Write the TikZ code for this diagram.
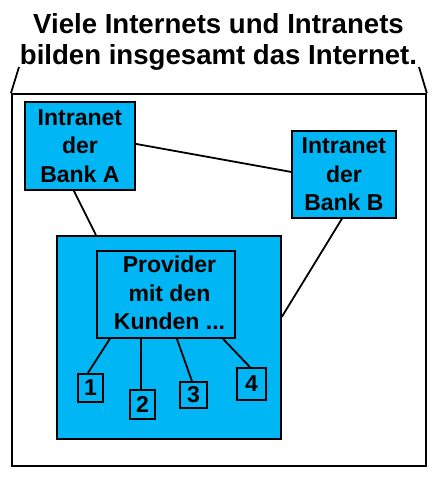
\documentclass[tikz,border=0pt]{standalone}
\usepackage{fontspec}
\setmainfont{Liberation Sans}
\definecolor{netblue}{RGB}{0,182,245}
\begin{document}
\begin{tikzpicture}[x=1pt,y=-1pt,
  box/.style={draw=black,line width=1.8pt,fill=netblue,inner sep=0pt},
  lbl/.style={font=\fontsize{23}{28.5}\selectfont\bfseries,align=center,inner sep=0pt},
  link/.style={line width=1.8pt}]
\useasboundingbox (0,0) rectangle (442,479);
\node[font=\fontsize{27.6}{31}\selectfont\bfseries, align=center, inner sep=0pt, anchor=north] (T) at (218.5,13) {Viele Internets und Intranets\\bilden insgesamt das Internet.};
\node[draw,line width=1.8pt,minimum width=414pt,minimum height=372pt,inner sep=0pt,anchor=north west] (W) at (11,93) {};
\coordinate (L) at (19,67);
\coordinate (R) at (419,67);
\draw[link] (W.north west) -- (L);
\draw[link] (W.north east) -- (R);
\node[box,minimum width=224pt,minimum height=203pt,anchor=north west] (P) at (56,235) {};
\node[box,minimum width=138pt,minimum height=87pt,anchor=north west] (Q) at (96,250) {};
\node[lbl] (Qt) at (169.5,293.1) {Provider\\mit den\\Kunden ...};
\node[box,lbl,minimum width=110pt,minimum height=88pt,anchor=north west] (A) at (24,101) {Intranet\\der\\Bank A};
\node[box,lbl,minimum width=104pt,minimum height=87pt,anchor=north west] (B) at (291,130) {Intranet\\der\\Bank B};
\node[box,lbl,minimum width=25pt,minimum height=28pt,anchor=north west] (n1) at (77,373) {1};
\node[box,lbl,minimum width=25pt,minimum height=29pt,anchor=north west] (n2) at (129,389) {2};
\node[box,lbl,minimum width=27pt,minimum height=26pt,anchor=north west] (n3) at (179,381) {3};
\node[box,lbl,minimum width=29pt,minimum height=32pt,anchor=north west] (n4) at (236,367) {4};
\draw[link] ([yshift=2pt]A.east) -- ([yshift=2.5pt]B.west);
\draw[link] ([xshift=-6pt]A.south) -- ([xshift=-73pt]P.north);
\draw[link] ([xshift=-2pt]B.south) -- ([yshift=20.5pt]P.east);
\draw[link] ([xshift=-56pt]Q.south) -- ([xshift=-2.5pt]n1.north);
\draw[link] ([xshift=-25pt]Q.south) -- ([xshift=-1.5pt]n2.north);
\draw[link] ([xshift=11pt]Q.south) -- ([xshift=-1.5pt]n3.north);
\draw[link] ([xshift=57pt]Q.south) -- ([xshift=-1.5pt]n4.north);
\end{tikzpicture}
\end{document}
